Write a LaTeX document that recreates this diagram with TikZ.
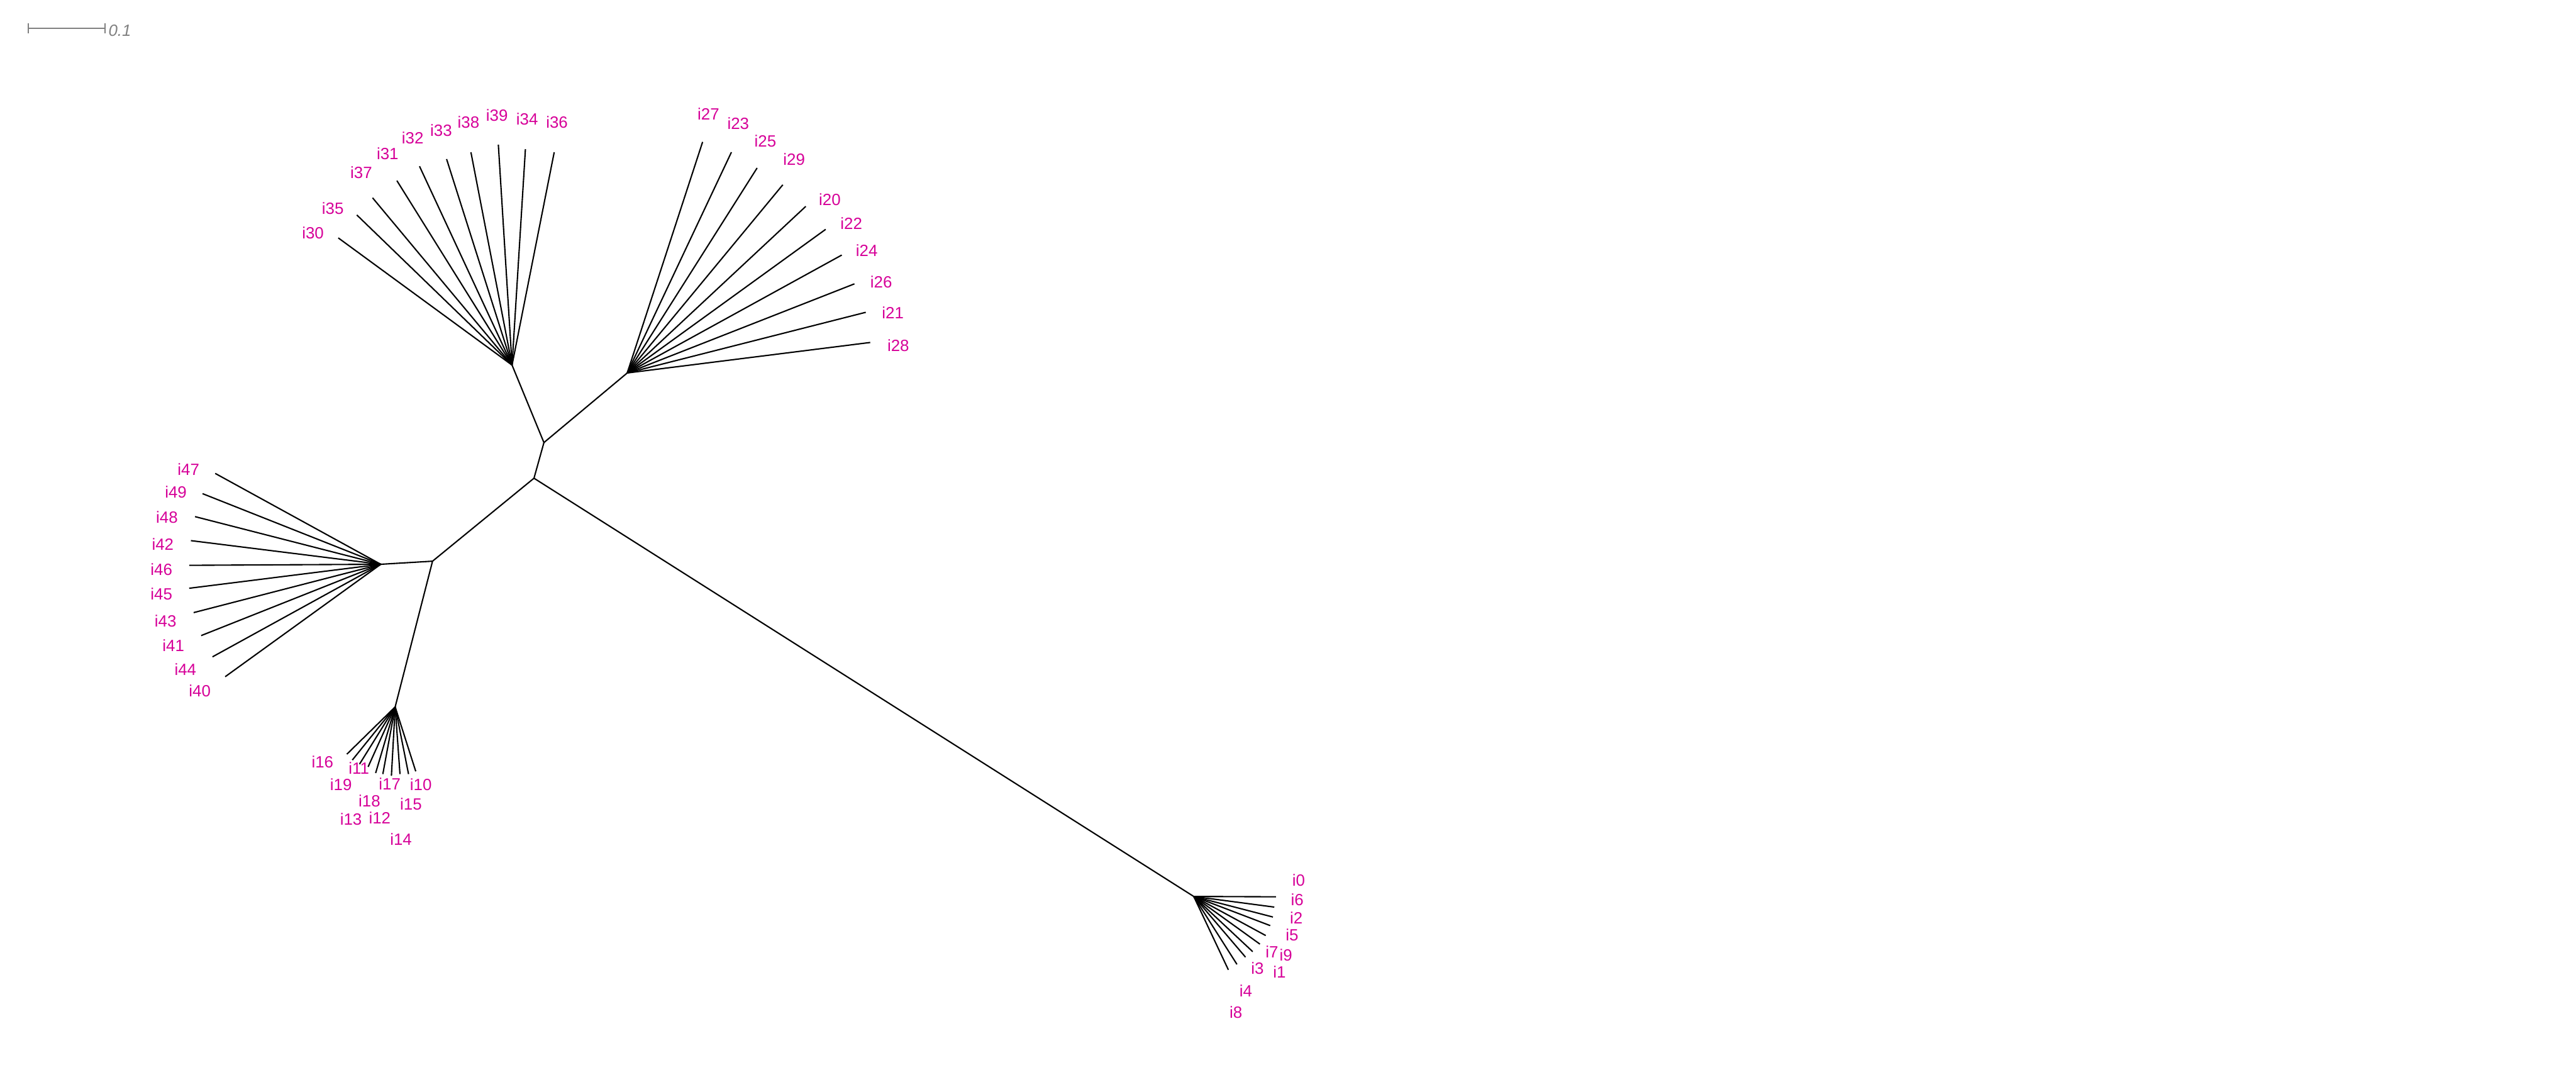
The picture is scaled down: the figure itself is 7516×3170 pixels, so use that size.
\documentclass[tikz,border=0pt]{standalone}
\usepackage{fontspec}
\setmainfont{Liberation Sans}
\definecolor{lab}{RGB}{214,0,152}
\definecolor{barc}{RGB}{128,128,128}
\tikzset{
  edge/.style={line width=1.1pt, black},
  leaflabel/.style={text=lab, font=\fontsize{13.5}{16}\selectfont, inner sep=0pt, anchor=center},
  scalebar/.style={line width=1pt, barc},
}
\begin{document}
\begin{tikzpicture}[x=0.01cm,y=-0.01cm]
\useasboundingbox (0,0) rectangle (7516,3170);
% internal nodes
\coordinate (A) at (1494,1065);
\coordinate (B) at (1587,1291);
\coordinate (C) at (1830,1088);
\coordinate (D) at (1558,1395);
\coordinate (E) at (1262,1637);
\coordinate (F) at (1111,1646);
\coordinate (G) at (1153,2062);
\coordinate (H) at (3483,2615);
\draw[edge] (A) -- (B);
\draw[edge] (B) -- (C);
\draw[edge] (B) -- (D);
\draw[edge] (D) -- (E);
\draw[edge] (D) -- (H);
\draw[edge] (E) -- (F);
\draw[edge] (E) -- (G);
% top-left cluster
\foreach \n/\x/\y/\lx/\ly in {30/987/694/913/679, 35/1041/627/971/608, 37/1087/577/1054/504,
  31/1158/527/1131/448, 32/1224/485/1204/402, 33/1303/464/1287/381, 38/1374/444/1367/356,
  39/1454/422/1450/336, 34/1533/435/1538/347, 36/1617/444/1625/357}{
  \coordinate (l\n) at (\x,\y);
  \node[leaflabel] (t\n) at (\lx,\ly) {i\n};
  \draw[edge] (A) -- (l\n);
}
% top-right cluster
\foreach \n/\x/\y/\lx/\ly in {27/2050/414/2067/332, 23/2134/444/2154/361, 25/2209/490/2233/411,
  29/2284/539/2317/465, 20/2351/602/2421/582, 22/2409/669/2484/652, 24/2456/744/2529/731,
  26/2493/828/2571/823, 21/2526/911/2605/912, 28/2539/999/2621/1008}{
  \coordinate (l\n) at (\x,\y);
  \node[leaflabel] (t\n) at (\lx,\ly) {i\n};
  \draw[edge] (C) -- (l\n);
}
% left cluster
\foreach \n/\x/\y/\lx/\ly in {47/628/1381/550/1370, 49/591/1440/513/1436, 48/569/1507/487/1508,
  42/557/1577/475/1587, 46/552/1649/471/1661, 45/552/1716/471/1732, 43/565/1787/483/1812,
  41/587/1854/506/1882, 44/620/1916/541/1952, 40/657/1974/583/2015}{
  \coordinate (l\n) at (\x,\y);
  \node[leaflabel] (t\n) at (\lx,\ly) {i\n};
  \draw[edge] (F) -- (l\n);
}
% bottom cluster
\foreach \n/\x/\y/\lx/\ly in {16/1012/2200/941/2223, 19/1028/2217/995/2289, 11/1049/2229/1047/2240,
  13/1074/2237/1024/2390, 18/1096/2255/1078/2336, 12/1117/2258/1108/2386, 17/1142/2263/1137/2287,
  14/1167/2258/1170/2448, 15/1192/2258/1199/2345, 10/1213/2250/1228/2289}{
  \coordinate (l\n) at (\x,\y);
  \node[leaflabel] (t\n) at (\lx,\ly) {i\n};
  \draw[edge] (G) -- (l\n);
}
% bottom-right cluster
\foreach \n/\x/\y/\lx/\ly in {0/3723/2616/3789/2567, 6/3718/2646/3785/2624, 2/3714/2675/3782/2677,
  5/3706/2700/3770/2727, 9/3693/2729/3752/2786, 7/3676/2754/3711/2777, 1/3655/2776/3733/2836,
  3/3634/2792/3669/2824, 4/3609/2813/3635/2890, 8/3584/2829/3606/2952}{
  \coordinate (l\n) at (\x,\y);
  \node[leaflabel] (t\n) at (\lx,\ly) {i\n};
  \draw[edge] (H) -- (l\n);
}
% scale bar
\coordinate (s0) at (83,82);
\coordinate (s1) at (307,82);
\draw[scalebar] (s0) -- (s1);
\draw[scalebar] ([yshift=0.14cm]s0) -- ([yshift=-0.15cm]s0);
\draw[scalebar] ([yshift=0.14cm]s1) -- ([yshift=-0.15cm]s1);
\node[text=barc, font=\fontsize{13.5}{16}\selectfont\itshape, inner sep=0pt, anchor=west] (sl) at (316,90) {0.1};
\end{tikzpicture}
\end{document}
